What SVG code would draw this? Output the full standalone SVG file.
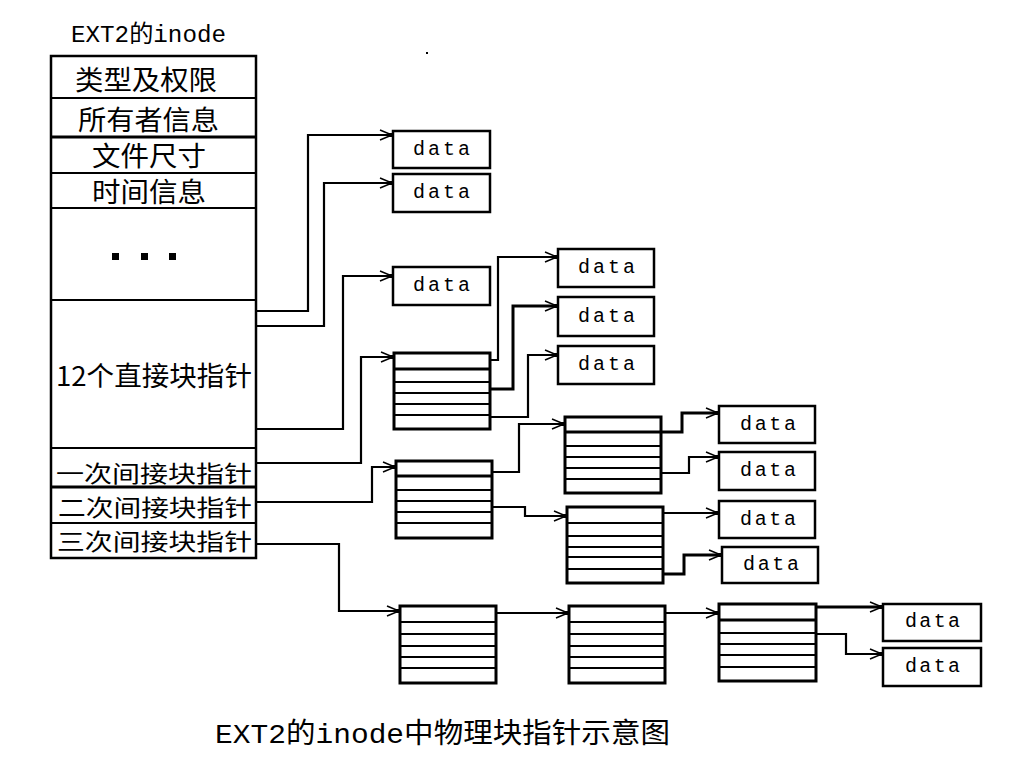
<svg xmlns="http://www.w3.org/2000/svg" width="1024" height="768" viewBox="0 0 1024 768">
<defs>
<style>
.box{fill:#fff;stroke:#000;stroke-width:2.5}
.blk{fill:#fff;stroke:#000;stroke-width:3}
.ln{stroke:#000;stroke-width:2;fill:none}
.tl{stroke:#000;stroke-width:3;fill:none}
.conn{fill:none;stroke:#000;stroke-width:2.2;marker-end:url(#arr)}
.thick{stroke-width:3}
.dt{font-family:"Liberation Mono",monospace;font-size:20px;fill:#000}
.cj{font-family:"Noto Sans CJK SC","Noto Sans CJK TC",sans-serif;font-size:27px;fill:#000}
.cs{font-family:"Noto Sans CJK SC","Noto Sans CJK TC",sans-serif;font-size:23px;fill:#000}
.mx{font-family:"Liberation Mono","Noto Sans CJK SC",monospace;fill:#000}
</style>
<marker id="arr" markerUnits="userSpaceOnUse" viewBox="-14 -7 16 14" refX="0" refY="0" markerWidth="16" markerHeight="14" orient="auto">
<path d="M-13,-5 L-1,0 L-13,5" fill="none" stroke="#000" stroke-width="1.5"/>
<rect x="-4" y="-2" width="4" height="4" fill="#000"/>
</marker>
</defs>
<rect width="1024" height="768" fill="#fff"/>
<rect x="426" y="52" width="2" height="2" fill="#000"/>

<text class="mx" x="71" y="42" font-size="24" textLength="155" lengthAdjust="spacingAndGlyphs">EXT2的inode</text>

<g id="inode">
<rect class="box" x="51" y="56" width="205" height="502"/>
<line class="ln" x1="51" y1="98" x2="256" y2="98"/>
<line class="tl" x1="51" y1="137" x2="256" y2="137"/>
<line class="ln" x1="51" y1="173" x2="256" y2="173"/>
<line class="ln" x1="51" y1="208" x2="256" y2="208"/>
<line class="ln" x1="51" y1="300" x2="256" y2="300"/>
<line class="ln" x1="51" y1="448" x2="256" y2="448"/>
<line class="tl" x1="51" y1="487" x2="256" y2="487"/>
<line class="ln" x1="51" y1="523" x2="256" y2="523"/>
<text class="cj" x="75" y="90" textLength="142" lengthAdjust="spacingAndGlyphs">类型及权限</text>
<text class="cj" x="78" y="130" textLength="141" lengthAdjust="spacingAndGlyphs">所有者信息</text>
<text class="cj" x="92" y="166" textLength="114" lengthAdjust="spacingAndGlyphs">文件尺寸</text>
<text class="cj" x="92" y="202" textLength="114" lengthAdjust="spacingAndGlyphs">时间信息</text>
<rect x="112" y="253" width="7" height="7" fill="#000"/>
<rect x="141" y="253" width="7" height="7" fill="#000"/>
<rect x="169" y="253" width="7" height="7" fill="#000"/>
<text class="cj" x="56" y="386" textLength="196" lengthAdjust="spacingAndGlyphs">12个直接块指针</text>
<text class="cs" x="56" y="482" textLength="196" lengthAdjust="spacingAndGlyphs">一次间接块指针</text>
<text class="cs" x="58" y="516" textLength="194" lengthAdjust="spacingAndGlyphs">二次间接块指针</text>
<text class="cs" x="57" y="550" textLength="195" lengthAdjust="spacingAndGlyphs">三次间接块指针</text>
</g>

<g id="connectors">
<polyline class="conn" points="256,311 308,311 308,135 393,135"/>
<polyline class="conn" points="256,326 324,326 324,183 393,183"/>
<polyline class="conn" points="256,429 343,429 343,276 393,276"/>
<polyline class="conn" points="256,463 361,463 361,357 394,357"/>
<polyline class="conn" points="256,502 372,502 372,467 396,467"/>
<polyline class="conn" points="256,544 339,544 339,611 400,611"/>
<polyline class="conn" points="490,360 498,360 498,257 558,257"/>
<polyline class="conn thick" points="490,389 513,389 513,306 558,306"/>
<polyline class="conn" points="490,417 528,417 528,355 558,355"/>
<polyline class="conn" points="492,472 519,472 519,424 565,424"/>
<polyline class="conn" points="492,507 525,507 525,516 567,516"/>
<polyline class="conn thick" points="661,432 682,432 682,413 719,413"/>
<polyline class="conn" points="661,473 689,473 689,457 719,457"/>
<polyline class="conn" points="663,513 719,513"/>
<polyline class="conn thick" points="663,574 684,574 684,555 722,555"/>
<polyline class="conn" points="496,613 569,613"/>
<polyline class="conn" points="665,613 719,613"/>
<polyline class="conn thick" points="816,607 883,607"/>
<polyline class="conn" points="816,634 846,634 846,654 883,654"/>
</g>

<g id="data-d1"><rect class="box" x="393" y="131" width="97" height="37"/><text class="dt" x="413" y="155" textLength="57">data</text></g>
<g id="data-d2"><rect class="box" x="393" y="174" width="97" height="38"/><text class="dt" x="413" y="198" textLength="57">data</text></g>
<g id="data-d3"><rect class="box" x="393" y="267" width="97" height="38"/><text class="dt" x="413" y="291" textLength="57">data</text></g>

<g id="block-single">
<rect class="blk" x="394" y="353" width="96" height="76"/>
<line class="tl" x1="394" y1="369" x2="490" y2="369"/>
<line class="ln" x1="394" y1="382" x2="490" y2="382"/>
<line class="ln" x1="394" y1="393" x2="490" y2="393"/>
<line class="ln" x1="394" y1="404" x2="490" y2="404"/>
<line class="ln" x1="394" y1="415" x2="490" y2="415"/>
</g>
<g id="data-s1"><rect class="box" x="558" y="249" width="96" height="38"/><text class="dt" x="578" y="273" textLength="57">data</text></g>
<g id="data-s2"><rect class="box" x="558" y="297" width="96" height="39"/><text class="dt" x="578" y="322" textLength="57">data</text></g>
<g id="data-s3"><rect class="box" x="558" y="346" width="96" height="38"/><text class="dt" x="578" y="370" textLength="57">data</text></g>

<g id="block-double">
<rect class="blk" x="396" y="461" width="96" height="77"/>
<line class="tl" x1="396" y1="476" x2="492" y2="476"/>
<line class="ln" x1="396" y1="490" x2="492" y2="490"/>
<line class="ln" x1="396" y1="501" x2="492" y2="501"/>
<line class="ln" x1="396" y1="512" x2="492" y2="512"/>
<line class="ln" x1="396" y1="523" x2="492" y2="523"/>
</g>
<g id="block-double-a">
<rect class="blk" x="565" y="417" width="96" height="76"/>
<line class="tl" x1="565" y1="432" x2="661" y2="432"/>
<line class="ln" x1="565" y1="446" x2="661" y2="446"/>
<line class="ln" x1="565" y1="457" x2="661" y2="457"/>
<line class="ln" x1="565" y1="468" x2="661" y2="468"/>
<line class="ln" x1="565" y1="479" x2="661" y2="479"/>
</g>
<g id="block-double-b">
<rect class="blk" x="567" y="507" width="96" height="76"/>
<line class="ln" x1="567" y1="523" x2="663" y2="523"/>
<line class="ln" x1="567" y1="536" x2="663" y2="536"/>
<line class="ln" x1="567" y1="547" x2="663" y2="547"/>
<line class="ln" x1="567" y1="557" x2="663" y2="557"/>
<line class="ln" x1="567" y1="569" x2="663" y2="569"/>
</g>
<g id="data-db1"><rect class="box" x="719" y="406" width="96" height="37"/><text class="dt" x="740" y="430" textLength="56">data</text></g>
<g id="data-db2"><rect class="box" x="719" y="452" width="96" height="38"/><text class="dt" x="740" y="476" textLength="56">data</text></g>
<g id="data-db3"><rect class="box" x="719" y="501" width="96" height="37"/><text class="dt" x="740" y="525" textLength="56">data</text></g>
<g id="data-db4"><rect class="box" x="722" y="547" width="96" height="36"/><text class="dt" x="743" y="570" textLength="56">data</text></g>

<g id="block-triple">
<rect class="blk" x="400" y="606" width="96" height="77"/>
<line class="ln" x1="400" y1="622" x2="496" y2="622"/>
<line class="ln" x1="400" y1="634" x2="496" y2="634"/>
<line class="ln" x1="400" y1="646" x2="496" y2="646"/>
<line class="ln" x1="400" y1="657" x2="496" y2="657"/>
<line class="ln" x1="400" y1="668" x2="496" y2="668"/>
</g>
<g id="block-triple-b">
<rect class="blk" x="569" y="606" width="96" height="77"/>
<line class="ln" x1="569" y1="622" x2="665" y2="622"/>
<line class="ln" x1="569" y1="634" x2="665" y2="634"/>
<line class="ln" x1="569" y1="646" x2="665" y2="646"/>
<line class="ln" x1="569" y1="657" x2="665" y2="657"/>
<line class="ln" x1="569" y1="668" x2="665" y2="668"/>
</g>
<g id="block-triple-c">
<rect class="blk" x="719" y="604" width="97" height="77"/>
<line class="tl" x1="719" y1="620" x2="816" y2="620"/>
<line class="ln" x1="719" y1="633" x2="816" y2="633"/>
<line class="ln" x1="719" y1="644" x2="816" y2="644"/>
<line class="ln" x1="719" y1="655" x2="816" y2="655"/>
<line class="ln" x1="719" y1="667" x2="816" y2="667"/>
</g>
<g id="data-t1"><rect class="box" x="883" y="604" width="98" height="37"/><text class="dt" x="905" y="627" textLength="55">data</text></g>
<g id="data-t2"><rect class="box" x="883" y="648" width="98" height="38"/><text class="dt" x="905" y="672" textLength="55">data</text></g>

<text class="mx" x="215" y="743" font-size="28" textLength="455" lengthAdjust="spacingAndGlyphs">EXT2的inode中物理块指针示意图</text>
</svg>
